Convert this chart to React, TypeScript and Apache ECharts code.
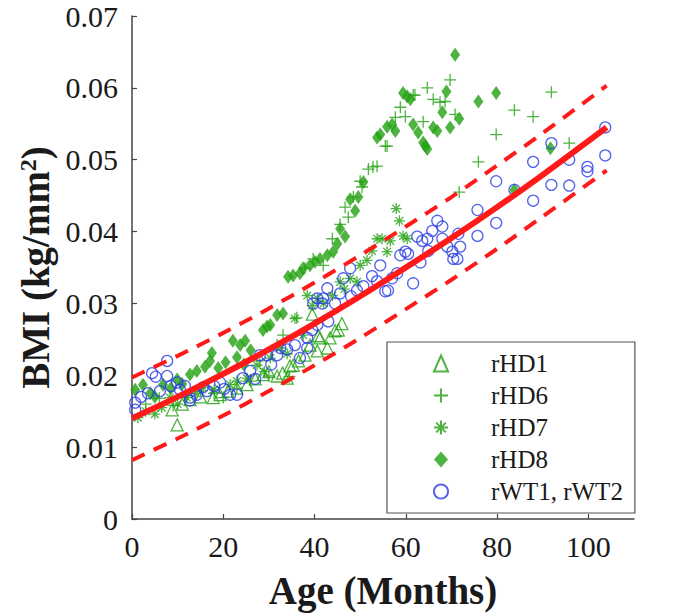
import React, { useEffect, useRef } from "react";
import * as echarts from "echarts";

// ---- data (age in months, BMI in kg/mm^2) ----
const rHD1: number[][] = [
  [8.8, 0.0152], [9.9, 0.0131], [11, 0.016], [12.7, 0.0166], [15, 0.017], [17.8, 0.0169],
  [19.3, 0.0173], [21, 0.0178], [23, 0.0182], [25.2, 0.0187], [27, 0.0195], [28.7, 0.0201],
  [30, 0.0205], [31.8, 0.0199], [33, 0.0203], [34, 0.0196], [34.6, 0.0213], [35.3, 0.0214],
  [36.5, 0.022], [37.9, 0.0228], [39, 0.0242], [40.6, 0.0234], [40.8, 0.0255], [41.2, 0.0252],
  [42.8, 0.0238], [43.4, 0.0252], [44.5, 0.0262], [45.2, 0.0263], [46, 0.0272], [39.5, 0.0285],
];

const rHD6: number[][] = [
  [3, 0.016], [6, 0.0168], [9, 0.0158], [12, 0.0172], [15, 0.0178], [18, 0.0175], [20, 0.0169],
  [23, 0.0182], [26, 0.0192], [28, 0.022], [30, 0.0199], [31.8, 0.0242], [33.1, 0.0256],
  [34.5, 0.0198], [36.1, 0.028], [37.9, 0.0349], [39.7, 0.0362], [41.9, 0.0353], [43.9, 0.039],
  [45.6, 0.041], [46.7, 0.0434], [47.4, 0.042], [48.5, 0.0448], [50, 0.047], [50.4, 0.0462],
  [51.8, 0.0487], [52.8, 0.049], [53.7, 0.0491], [55.5, 0.0519], [55.9, 0.0519], [57.7, 0.0559],
  [58.8, 0.0573], [59.9, 0.056], [61.6, 0.059], [62, 0.059], [63.8, 0.0553], [64.7, 0.06],
  [66, 0.0584], [67.5, 0.058], [68.6, 0.0581], [69.7, 0.0611], [70.8, 0.0563], [71.7, 0.0455],
  [75.9, 0.0497], [79.8, 0.0535], [83.8, 0.0569], [87.9, 0.056], [91.9, 0.0594], [95.8, 0.0523],
];

const rHD7: number[][] = [
  [1.3, 0.0141], [3, 0.015], [5, 0.0146], [6.5, 0.0155], [8.3, 0.0169], [10, 0.016], [12, 0.0169],
  [14, 0.0175], [15.6, 0.0183], [18, 0.018], [21.5, 0.0187], [23, 0.0192], [25.2, 0.0196],
  [27.4, 0.0214], [29, 0.0205], [30.3, 0.0224], [32.5, 0.0238], [34, 0.023], [35.7, 0.0279],
  [37.5, 0.0256], [38.4, 0.0311], [39.5, 0.0297], [40.6, 0.0307], [42, 0.03], [43.9, 0.0311],
  [45.6, 0.033], [46.5, 0.032], [47.8, 0.0335], [49.3, 0.033], [50, 0.0353], [51.5, 0.036],
  [52.6, 0.0373], [53.7, 0.039], [54.8, 0.039], [55.9, 0.0372], [56.6, 0.0387], [57.9, 0.0432],
  [58.6, 0.0415], [59.4, 0.0394], [60.3, 0.039],
];

const rHD8: number[][] = [
  [0.7, 0.018], [2.4, 0.0187], [4, 0.0175], [5, 0.017], [6.8, 0.0187], [8.5, 0.0182], [9.9, 0.0194],
  [11, 0.0188], [12.7, 0.0201], [14.2, 0.0206], [16, 0.0212], [17.1, 0.022], [17.5, 0.0231],
  [18.9, 0.021], [20.5, 0.0218], [22.1, 0.0248], [23, 0.0225], [23.7, 0.0242], [24.5, 0.0215],
  [24.8, 0.0248], [26, 0.0235], [28.7, 0.0263], [29.6, 0.0268], [30.3, 0.027], [31.8, 0.0284],
  [33.1, 0.0286], [34.2, 0.0337], [35.3, 0.0339], [36.8, 0.0342], [37.5, 0.0349], [39, 0.0353],
  [40.1, 0.0358], [41.2, 0.0362], [42.8, 0.0367], [44.1, 0.0372], [45, 0.0383], [45.6, 0.0404],
  [46.7, 0.0393], [47.8, 0.0445], [48.9, 0.0429], [49.6, 0.0448], [50.7, 0.0469], [53.7, 0.0531],
  [54.4, 0.0535], [55.9, 0.0546], [57, 0.0549], [57.7, 0.054], [59.4, 0.0593], [60.3, 0.0588],
  [61, 0.0584], [61.6, 0.0549], [62.7, 0.0538], [63.8, 0.0524], [64.3, 0.0519], [64.7, 0.0515],
  [66, 0.0545], [66.9, 0.054], [68, 0.0566], [68.9, 0.0595], [69.7, 0.0545], [70.8, 0.0646],
  [71.7, 0.0557], [75.9, 0.0581], [79.8, 0.0593], [83.8, 0.0458], [91.7, 0.0516],
];

const rWT: number[][] = [
  [0.7, 0.0162], [0.7, 0.0152], [2, 0.017], [3.5, 0.0175], [4.4, 0.0203], [5.2, 0.0198],
  [6.1, 0.0178], [7.7, 0.022], [7.7, 0.0199], [8.5, 0.0185], [9.9, 0.019], [10.5, 0.018],
  [11.6, 0.0185], [12.7, 0.0169], [12.7, 0.0165], [14.2, 0.0173], [15.5, 0.0183], [16.4, 0.0178],
  [18, 0.0185], [19.3, 0.019], [20.2, 0.0181], [21.5, 0.0173], [23, 0.0173], [24.3, 0.0196],
  [25.9, 0.0206], [27, 0.0195], [28, 0.0228], [29.6, 0.0228], [30.5, 0.0215], [31.8, 0.0228],
  [32.5, 0.0238], [34, 0.0236], [35.7, 0.0242], [36.8, 0.0224], [38.4, 0.0238], [38.4, 0.0252],
  [39.5, 0.0263], [39.7, 0.03], [40.6, 0.027], [40.6, 0.0307], [41.7, 0.03], [41.9, 0.0307],
  [42.8, 0.0321], [43, 0.0275], [44.5, 0.03], [45.6, 0.0314], [46.3, 0.0335], [47.8, 0.0349],
  [48, 0.031], [49.3, 0.0318], [50.7, 0.0324], [52.6, 0.0338], [53.7, 0.0331], [54.4, 0.0353],
  [55.5, 0.0317], [56.1, 0.0318], [57, 0.0335], [58.1, 0.0342], [58.8, 0.0367], [59.9, 0.0372],
  [60.5, 0.0369], [61.6, 0.0328], [62.5, 0.0393], [63.2, 0.0357], [63.6, 0.0387], [64.7, 0.039],
  [64.9, 0.0373], [65.8, 0.0401], [66.9, 0.0415], [68, 0.0407], [68, 0.039], [69.1, 0.0379],
  [70.2, 0.0372], [70.4, 0.0362], [71.3, 0.0362], [71.5, 0.0397], [71.9, 0.0379], [75.7, 0.043],
  [75.7, 0.0394], [79.8, 0.047], [79.8, 0.0412], [83.8, 0.0458], [87.9, 0.0497], [87.9, 0.0443],
  [91.9, 0.0523], [91.9, 0.0465], [95.8, 0.05], [95.8, 0.0464], [99.8, 0.049], [99.8, 0.0484],
  [103.7, 0.0545], [103.7, 0.0506],
];

// fitted curve and its band
const fitAge = [0, 10, 20, 30, 40, 50, 60, 70, 80, 90, 104];
const fitMid = [0.014, 0.017, 0.0202, 0.0236, 0.0272, 0.031, 0.035, 0.0391, 0.0434, 0.0479, 0.0545];
const fitUpper = [0.0197, 0.0227, 0.0259, 0.0293, 0.0329, 0.0367, 0.0407, 0.0448, 0.0492, 0.0537, 0.0603];
const fitLower = [0.0082, 0.0112, 0.0144, 0.0178, 0.0214, 0.0252, 0.0292, 0.0333, 0.0376, 0.0421, 0.0485];

const xTicks = [0, 20, 40, 60, 80, 100];
const legendNames = ["rHD1", "rHD6", "rHD7", "rHD8", "rWT1, rWT2"];

const GREEN = "#22a010";
const BLUE = "#2b3de6";
const RED = "#ff1a1a";
const FONT = "Liberation Serif";
const AXIS = "#444444";
const INK = "#1a1a1a";

const PLUS = "path://M5 0 L5 10 M0 5 L10 5";
const STAR = "path://M5 0 L5 10 M0 5 L10 5 M1.5 1.5 L8.5 8.5 M8.5 1.5 L1.5 8.5";

export default function App() {
  const ref = useRef<HTMLDivElement>(null);
  useEffect(() => {
    document.body.style.margin = "0";
    const chart = echarts.init(ref.current!, null, { renderer: "svg" });
    const pair = (ys: number[]) => fitAge.map((a, i) => [a, ys[i]]);
    const hollow = (c: string) => ({ color: "rgba(0,0,0,0)", borderColor: c, borderWidth: 1.3 });
    chart.setOption({
      animation: false,
      grid: { left: 132, right: 49, top: 16, bottom: 93, containLabel: false },
      xAxis: {
        type: "value",
        min: 0,
        max: 110,
        interval: 20,
        name: "Age (Months)",
        nameLocation: "middle",
        nameGap: 52,
        nameTextStyle: { fontFamily: FONT, fontWeight: "bold", fontSize: 39, color: INK },
        axisLine: { lineStyle: { color: AXIS, width: 1.5 } },
        axisTick: { inside: true, length: 5, customValues: xTicks, lineStyle: { color: AXIS, width: 1.2 } },
        axisLabel: { customValues: xTicks, fontFamily: FONT, fontSize: 30, color: INK, margin: 12 },
        splitLine: { show: false },
      },
      yAxis: {
        type: "value",
        min: 0,
        max: 0.07,
        interval: 0.01,
        name: "{b|BMI (kg/mm}{s|2}{b|)}",
        nameLocation: "middle",
        nameGap: 74,
        nameRotate: 90,
        nameTextStyle: {
          fontFamily: FONT,
          fontWeight: "bold",
          fontSize: 39,
          color: INK,
          rich: {
            b: { fontFamily: FONT, fontWeight: "bold", fontSize: 39, color: INK },
            s: { fontFamily: FONT, fontWeight: "bold", fontSize: 24, color: INK, verticalAlign: "top" },
          },
        },
        axisLine: { show: true, lineStyle: { color: AXIS, width: 1.5 } },
        axisTick: { show: true, inside: true, length: 5, lineStyle: { color: AXIS, width: 1.2 } },
        axisLabel: {
          fontFamily: FONT,
          fontSize: 30,
          color: INK,
          margin: 14,
          formatter: (v: number) => (v === 0 ? "0" : v.toFixed(2)),
        },
        splitLine: { show: false },
      },
      legend: {
        data: legendNames,
        orient: "vertical",
        left: 387,
        top: 342,
        itemWidth: 14,
        itemHeight: 16,
        itemGap: 7,
        padding: [9, 12, 9, 46],
        backgroundColor: "#ffffff",
        borderColor: "#555555",
        borderWidth: 1.2,
        borderRadius: 0,
        textStyle: { fontFamily: FONT, fontSize: 25, color: INK, padding: [0, 0, 0, 38] },
        selectedMode: false,
      },
      series: [
        { name: "rHD1", type: "scatter", data: rHD1, symbol: "triangle", symbolSize: 12, itemStyle: hollow(GREEN) },
        { name: "rHD6", type: "scatter", data: rHD6, symbol: PLUS, symbolSize: 12, itemStyle: hollow(GREEN) },
        { name: "rHD7", type: "scatter", data: rHD7, symbol: STAR, symbolSize: 11, itemStyle: hollow(GREEN) },
        { name: "rHD8", type: "scatter", data: rHD8, symbol: "diamond", symbolSize: [10, 14], itemStyle: { color: GREEN } },
        { name: "rWT1, rWT2", type: "scatter", data: rWT, symbol: "circle", symbolSize: 11, itemStyle: hollow(BLUE) },
        {
          name: "fit", type: "line", data: pair(fitMid), smooth: 0.3, showSymbol: false, symbol: "none",
          lineStyle: { color: RED, width: 6 }, z: 5,
        },
        {
          name: "upper", type: "line", data: pair(fitUpper), smooth: 0.3, showSymbol: false, symbol: "none",
          lineStyle: { color: RED, width: 4, type: [14, 10] }, z: 5,
        },
        {
          name: "lower", type: "line", data: pair(fitLower), smooth: 0.3, showSymbol: false, symbol: "none",
          lineStyle: { color: RED, width: 4, type: [14, 10] }, z: 5,
        },
      ],
    });
    return () => chart.dispose();
  }, []);
  return <div ref={ref} style={{ width: 683, height: 615 }} />;
}
